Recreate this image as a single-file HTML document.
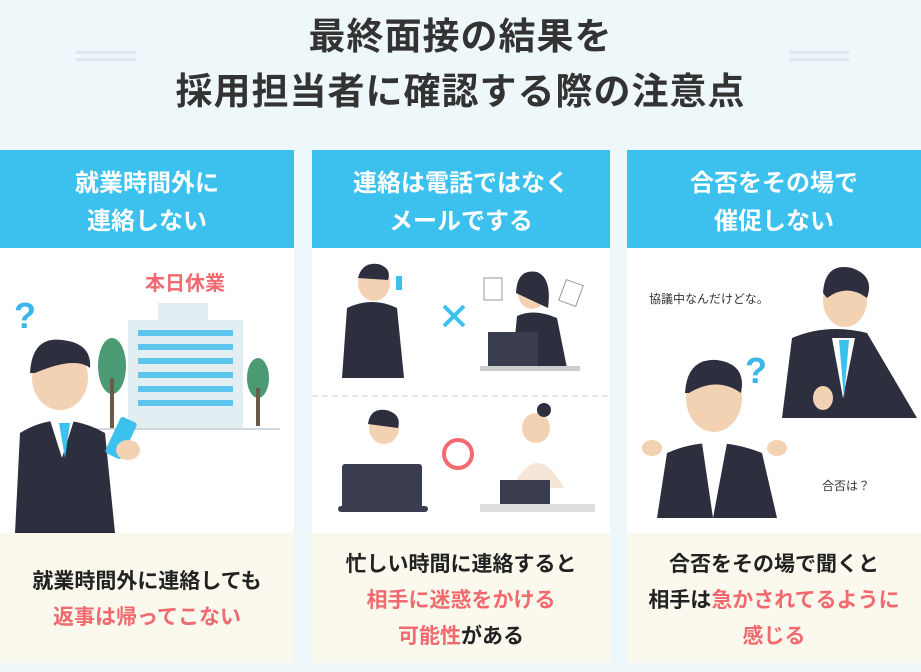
<!DOCTYPE html>
<html><head><meta charset="utf-8"><style>
*{margin:0;padding:0;box-sizing:border-box}
body{width:921px;height:672px;background:#eef8fa;position:relative;overflow:hidden;font-family:"Liberation Sans","Noto Sans CJK JP",sans-serif;font-weight:bold}
.t{position:absolute;left:0;width:921px;text-align:center;font-size:37px;color:#333;letter-spacing:1px}
.dl{position:absolute;height:3px;background:#dde8ec;width:60px}
.p{position:absolute;top:150px;height:513px;width:297px;background:#fff}
.h{position:absolute;top:0;left:0;right:0;height:98px;background:#3cc1ef;color:#fff;font-size:24px;text-align:center;line-height:38px;padding-top:15px}
.b{position:absolute;top:383px;left:0;right:0;bottom:0;background:#fbf9ed;color:#222;font-size:21px;text-align:center;line-height:36px}
.r{color:#f06a6f}
.il{position:absolute;top:98px;left:0;width:100%;height:285px}
</style></head><body>
<div class="t" style="top:6px">最終面接の結果を</div>
<div class="t" style="top:61px">採用担当者に確認する際の注意点</div>
<div class="dl" style="left:76px;top:51px"></div><div class="dl" style="left:76px;top:58px"></div>
<div class="dl" style="left:789px;top:51px"></div><div class="dl" style="left:789px;top:58px"></div>

<div class="p" style="left:0;width:294px">
<div class="h">就業時間外に<br>連絡しない</div>
<svg class="il" viewBox="0 0 294 285">
<text x="145" y="42" fill="#f06a6f" font-size="20" font-weight="bold" font-family="Liberation Sans,Noto Sans CJK JP,sans-serif">本日休業</text>
<rect x="128" y="72" width="115" height="108" fill="#e3eef3"/>
<rect x="158" y="55" width="50" height="20" fill="#e3eef3"/>
<g fill="#5cc6ee">
<rect x="138" y="82" width="95" height="6"/><rect x="138" y="96" width="95" height="6"/><rect x="138" y="110" width="95" height="6"/><rect x="138" y="124" width="95" height="6"/><rect x="138" y="138" width="95" height="6"/><rect x="138" y="152" width="95" height="6"/></g>
<ellipse cx="112" cy="118" rx="14" ry="28" fill="#4a9a74"/><rect x="110" y="130" width="4" height="50" fill="#6b5a4a"/>
<ellipse cx="258" cy="130" rx="11" ry="20" fill="#4a9a74"/><rect x="256" y="140" width="4" height="38" fill="#6b5a4a"/>
<rect x="90" y="180" width="190" height="2" fill="#cfd8dc"/>
<text x="14" y="80" fill="#3cb6e8" font-size="36" font-weight="bold" font-family="Liberation Sans,sans-serif">?</text>
<path d="M15 285 L20 185 Q60 160 105 185 L115 285 Z" fill="#2d2f3f"/>
<path d="M50 172 L62 210 L74 172 Z" fill="#fff"/><path d="M59 175 L65 210 L70 175 Z" fill="#3cc1ef"/>
<ellipse cx="60" cy="130" rx="28" ry="32" fill="#f3d2b4"/>
<path d="M30 125 Q32 88 62 92 Q92 95 90 120 Q75 108 35 125 Z" fill="#2d2f3f"/>
<rect x="112" y="170" width="18" height="40" rx="3" fill="#3cc1ef" transform="rotate(25 121 190)"/>
<ellipse cx="128" cy="202" rx="12" ry="10" fill="#f3d2b4"/>
</svg>
<div class="b" style="padding-top:31px">就業時間外に連絡しても<br><span class="r">返事は帰ってこない</span></div>
</div>

<div class="p" style="left:312px;width:298px">
<div class="h">連絡は電話ではなく<br>メールでする</div>
<svg class="il" viewBox="0 0 298 285">
<line x1="0" y1="148" x2="298" y2="148" stroke="#ccc" stroke-dasharray="6 4"/>
<path d="M30 130 L35 60 Q60 48 85 60 L92 130 Z" fill="#2d2f3f"/>
<ellipse cx="62" cy="35" rx="16" ry="18" fill="#f3d2b4"/><path d="M46 30 Q50 14 66 16 Q80 20 76 32 Z" fill="#2d2f3f"/>
<rect x="84" y="28" width="6" height="14" fill="#3cc1ef"/>
<path d="M132 58 L152 78 M152 58 L132 78" stroke="#3cc1ef" stroke-width="4"/>
<rect x="172" y="30" width="18" height="22" fill="#fff" stroke="#999"/><rect x="250" y="34" width="18" height="22" fill="#fff" stroke="#999" transform="rotate(20 259 45)"/>
<ellipse cx="220" cy="45" rx="14" ry="16" fill="#f3d2b4"/><path d="M204 45 Q205 20 225 24 Q240 30 236 60 Z" fill="#2d2f3f"/>
<path d="M200 120 L205 68 Q222 60 245 70 L255 120 Z" fill="#2d2f3f"/>
<rect x="176" y="84" width="50" height="34" fill="#3a3c50"/><rect x="168" y="118" width="100" height="5" fill="#ccc"/>
<circle cx="146" cy="206" r="14" fill="none" stroke="#f06a6f" stroke-width="4"/>
<ellipse cx="72" cy="180" rx="15" ry="16" fill="#f3d2b4"/><path d="M56 176 Q58 160 74 162 Q90 166 86 180 Z" fill="#2d2f3f"/>
<path d="M45 240 Q72 192 100 240 Z" fill="#f6e6d8"/>
<rect x="30" y="216" width="80" height="44" rx="3" fill="#3a3c50"/><rect x="26" y="258" width="90" height="6" rx="3" fill="#3a3c50"/>
<ellipse cx="224" cy="180" rx="14" ry="15" fill="#f3d2b4"/><circle cx="232" cy="162" r="7" fill="#2d2f3f"/>
<path d="M200 240 Q225 190 252 240 Z" fill="#f6e6d8"/>
<rect x="188" y="232" width="50" height="28" fill="#3a3c50"/><rect x="168" y="256" width="115" height="8" fill="#ddd"/>
</svg>
<div class="b" style="padding-top:14px">忙しい時間に連絡すると<br><span class="r">相手に迷惑をかける</span><br><span class="r">可能性</span>がある</div>
</div>

<div class="p" style="left:627px;width:294px">
<div class="h">合否をその場で<br>催促しない</div>
<svg class="il" viewBox="0 0 294 285">
<text x="22" y="55" fill="#333" font-size="12" font-family="Liberation Sans,Noto Sans CJK JP,sans-serif" font-weight="normal">協議中なんだけどな。</text>
<text x="195" y="242" fill="#333" font-size="12" font-family="Liberation Sans,Noto Sans CJK JP,sans-serif" font-weight="normal">合否は？</text>
<text x="118" y="135" fill="#3cb6e8" font-size="36" font-weight="bold" font-family="Liberation Sans,sans-serif">?</text>
<path d="M155 170 L165 90 Q200 75 240 85 L290 170 Z" fill="#2d2f3f"/>
<path d="M205 90 L216 150 L228 90 Z" fill="#fff"/><path d="M212 92 L217 150 L222 92 Z" fill="#3cc1ef"/>
<ellipse cx="218" cy="52" rx="22" ry="27" fill="#f3d2b4"/><path d="M196 45 Q198 14 225 20 Q248 28 240 50 Q220 35 200 50 Z" fill="#2d2f3f"/>
<ellipse cx="196" cy="150" rx="10" ry="12" fill="#f3d2b4"/>
<path d="M30 270 L40 205 Q85 185 135 205 L150 270 Z" fill="#2d2f3f"/>
<path d="M75 195 L86 270 L100 195 Z" fill="#fff"/>
<ellipse cx="87" cy="150" rx="28" ry="34" fill="#f3d2b4"/><path d="M58 145 Q60 110 90 112 Q120 116 114 145 Q90 128 62 145 Z" fill="#2d2f3f"/>
<ellipse cx="25" cy="200" rx="10" ry="8" fill="#f3d2b4"/><ellipse cx="150" cy="200" rx="10" ry="8" fill="#f3d2b4"/>
</svg>
<div class="b" style="padding-top:14px">合否をその場で聞くと<br>相手は<span class="r">急かされてるように</span><br><span class="r">感じる</span></div>
</div>
</body></html>
